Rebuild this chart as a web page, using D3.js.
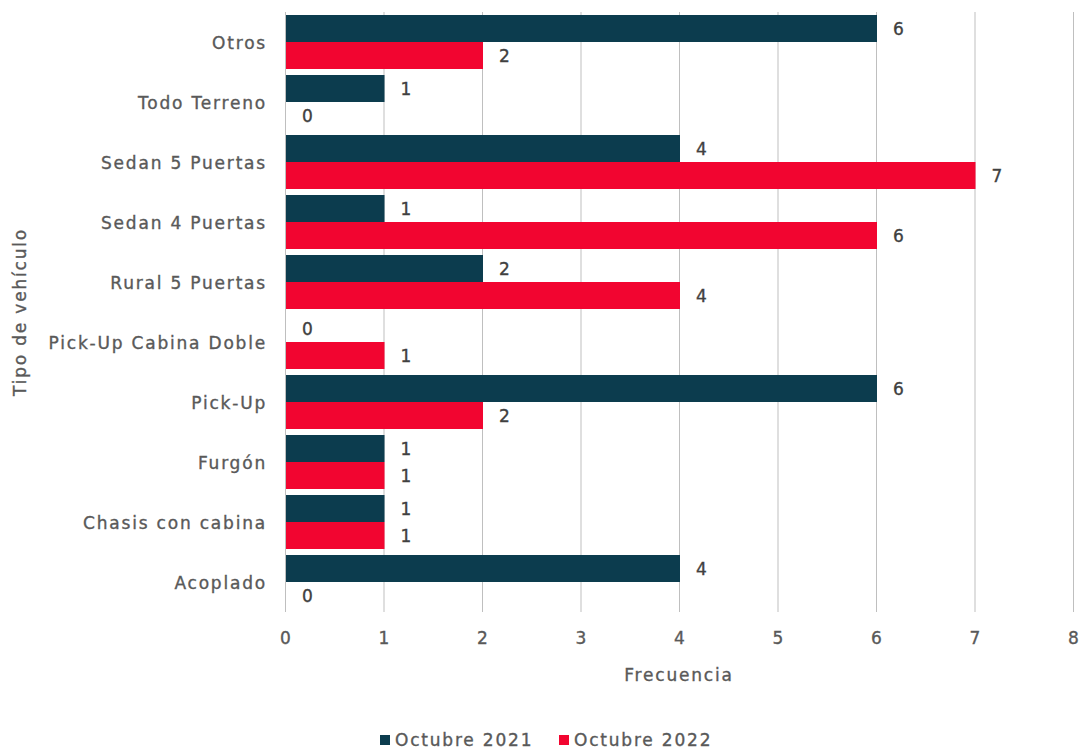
<!DOCTYPE html>
<html>
<head>
<meta charset="utf-8">
<script src="https://cdn.jsdelivr.net/npm/d3@7"></script>
<style>
  body { margin: 0; background: #fff; }
  text { font-family: "DejaVu Sans", "Liberation Sans", sans-serif; font-size: 17px; letter-spacing: 1.8px; stroke-width: 0.35px; }
</style>
</head>
<body>
<div id="container"></div>
<script>
const w = 1080;
const h = 749;

// data, top to bottom
const categories = ["Otros", "Todo Terreno", "Sedan 5 Puertas", "Sedan 4 Puertas", "Rural 5 Puertas",
                    "Pick-Up Cabina Doble", "Pick-Up", "Furgón", "Chasis con cabina", "Acoplado"];
const oct2021 = [6, 1, 4, 1, 2, 0, 6, 1, 1, 4];
const oct2022 = [2, 0, 7, 6, 4, 1, 2, 1, 1, 0];
const seriesNames = ["Octubre 2021", "Octubre 2022"];
const xTicks = [0, 1, 2, 3, 4, 5, 6, 7, 8];

const colors = ["#0c3c4e", "#f20530"];
const textColor = "#595959";

const plotLeft = 285, plotRight = 1073, plotTop = 12, plotBottom = 612;

const svg = d3.select("#container").append("svg")
              .attr("width", w).attr("height", h);

const x = d3.scaleLinear().domain([0, 8]).range([plotLeft, plotRight]);
const y = d3.scaleBand().domain(categories).range([plotTop, plotBottom])
            .paddingInner(0.1).paddingOuter(0.05);
const ySub = d3.scaleBand().domain([0, 1]).range([0, y.bandwidth()]);

// grid lines
svg.append("g").selectAll("line").data(xTicks).enter().append("line")
   .attr("x1", d => x(d) + 0.5).attr("x2", d => x(d) + 0.5)
   .attr("y1", plotTop).attr("y2", plotBottom)
   .attr("stroke", "#bfbfbf").attr("stroke-width", 1);

// x axis labels
const xAxis = d3.axisBottom(x).tickValues(xTicks).tickSize(0).tickPadding(20);
const xAxisGroup = svg.append("g")
   .attr("transform", "translate(0," + plotBottom + ")")
   .call(xAxis);
xAxisGroup.select(".domain").remove();
xAxisGroup.selectAll("text")
   .attr("dx", "0.9px")
   .style("font-size", "17px").attr("fill", textColor).attr("stroke", textColor);

// y axis labels
const yAxis = d3.axisLeft(y).tickSize(0).tickPadding(18);
const yAxisGroup = svg.append("g")
   .attr("transform", "translate(" + plotLeft + ",0)")
   .call(yAxis);
yAxisGroup.select(".domain").remove();
yAxisGroup.selectAll("text")
   .attr("dy", "0.4em")
   .style("font-size", "17px").attr("fill", textColor).attr("stroke", textColor);

const rows = categories.map((c, i) => ({cat: c, vals: [oct2021[i], oct2022[i]]}));

const groups = svg.selectAll(".row").data(rows).enter().append("g")
   .attr("class", "row")
   .attr("transform", d => "translate(0," + y(d.cat) + ")");

groups.selectAll("rect").data(d => d.vals).enter().append("rect")
   .attr("x", x(0) + 1)
   .attr("y", (d, i) => ySub(i))
   .attr("width", d => Math.max(0, x(d) - x(0)))
   .attr("height", ySub.bandwidth())
   .attr("fill", (d, i) => colors[i]);

groups.selectAll(".val").data(d => d.vals).enter().append("text")
   .attr("class", "val")
   .attr("x", d => x(d) + 17)
   .attr("y", (d, i) => ySub(i) + ySub.bandwidth() / 2)
   .attr("dy", "0.4em")
   .attr("fill", "#404040").attr("stroke", "#404040")
   .text(d => d);

// axis titles
svg.append("text")
   .attr("x", (plotLeft + plotRight) / 2).attr("y", 681)
   .attr("text-anchor", "middle")
   .attr("fill", textColor).attr("stroke", textColor)
   .text("Frecuencia");

svg.append("text")
   .attr("transform", "translate(26," + ((plotTop + plotBottom) / 2) + ") rotate(-90)")
   .attr("text-anchor", "middle")
   .attr("fill", textColor).attr("stroke", textColor)
   .text("Tipo de vehículo");

// legend
const legendX = [380, 559];
const legend = svg.selectAll(".legend").data(seriesNames).enter().append("g")
   .attr("class", "legend")
   .attr("transform", (d, i) => "translate(" + legendX[i] + ",735)");
legend.append("rect").attr("width", 10).attr("height", 10)
   .attr("fill", (d, i) => colors[i]);
legend.append("text").attr("x", 15).attr("y", 5).attr("dy", "0.38em")
   .attr("fill", textColor).attr("stroke", textColor)
   .text(d => d);
</script>
</body>
</html>
